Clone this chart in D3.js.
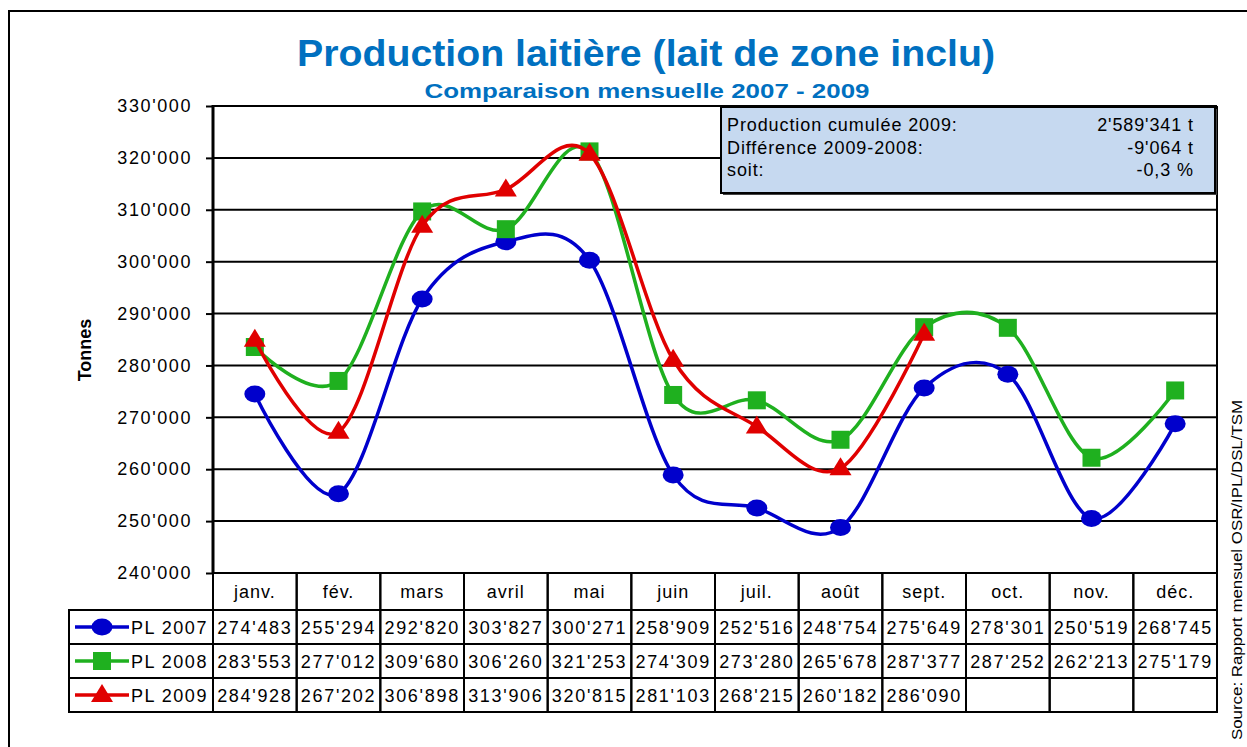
<!DOCTYPE html>
<html>
<head>
<meta charset="utf-8">
<script src="https://cdn.jsdelivr.net/npm/d3@7"></script>
<style>
  body { margin: 0; background: #fff; }
  text { font-family: "Liberation Sans", Arial, sans-serif; }
</style>
</head>
<body>
<script>
/* Monthly milk production, 2007-2009, with the values table under the plot. */

const months = ['janv.', 'fév.', 'mars', 'avril', 'mai', 'juin', 'juil.', 'août', 'sept.', 'oct.', 'nov.', 'déc.'];
const pl2007 = [274483, 255294, 292820, 303827, 300271, 258909, 252516, 248754, 275649, 278301, 250519, 268745];
const pl2008 = [283553, 277012, 309680, 306260, 321253, 274309, 273280, 265678, 287377, 287252, 262213, 275179];
const pl2009 = [284928, 267202, 306898, 313906, 320815, 281103, 268215, 260182, 286090, null, null, null];
const seriesNames = ['PL 2007', 'PL 2008', 'PL 2009'];
const yTicks = [240000, 250000, 260000, 270000, 280000, 290000, 300000, 310000, 320000, 330000];
const infoLabels = ['Production cumulée 2009:', 'Différence 2009-2008:', 'soit:'];
const infoValues = ["2'589'341 t", "-9'064 t", '-0,3 %'];

const W = 1247, H = 747;
const L = 213, R = 1217, T = 106, B = 573;
const HEAD_H = 37, ROW_H = 34, LEG_X = 69;

const colors = {
  title: '#0070c0',
  series: ['#0000cc', '#1fb01f', '#e00000'],
  info: '#c6d9f0',
};

const locale = d3.formatLocale({ decimal: ',', thousands: "'", grouping: [3], currency: ['', ''] });
const fmt = locale.format(',d');

const svg = d3.select('body').append('svg').attr('width', W).attr('height', H);

// outer frame (runs off the right and bottom edges)
svg.append('rect')
  .attr('x', 9).attr('y', 11).attr('width', 1300).attr('height', 800)
  .attr('fill', 'none').attr('stroke', '#000').attr('stroke-width', 2);

// titles
svg.append('text')
  .attr('x', 646).attr('y', 66)
  .attr('text-anchor', 'middle')
  .attr('textLength', 698).attr('lengthAdjust', 'spacingAndGlyphs')
  .style('font-size', '36px').style('font-weight', 'bold')
  .attr('fill', colors.title)
  .text('Production laitière (lait de zone inclu)');
svg.append('text')
  .attr('x', 647).attr('y', 98)
  .attr('text-anchor', 'middle')
  .attr('textLength', 445).attr('lengthAdjust', 'spacingAndGlyphs')
  .style('font-size', '21px').style('font-weight', 'bold')
  .attr('fill', colors.title)
  .text('Comparaison mensuelle 2007  - 2009');

const x = d3.scaleBand().domain(months).range([L, R]);
const y = d3.scaleLinear().domain([240000, 330000]).range([B, T]);
const cx = (m) => x(m) + x.bandwidth() / 2;

// grid
svg.append('g').selectAll('line')
  .data(yTicks)
  .join('line')
  .attr('x1', L).attr('x2', R)
  .attr('y1', (d) => y(d)).attr('y2', (d) => y(d))
  .attr('stroke', '#000').attr('stroke-width', 2);

svg.append('line')
  .attr('x1', R).attr('x2', R).attr('y1', T).attr('y2', B)
  .attr('stroke', '#000').attr('stroke-width', 2);

// y axis
const yAxis = svg.append('g')
  .attr('transform', `translate(${L},0)`)
  .call(d3.axisLeft(y).tickValues(yTicks).tickFormat(fmt).tickSize(7).tickPadding(14));
yAxis.select('.domain').remove();
yAxis.selectAll('.tick line').attr('stroke', '#000').attr('stroke-width', 2);
yAxis.selectAll('.tick text')
  .style('font-size', '18px').style('letter-spacing', '1.6px')
  .attr('fill', '#000');
svg.append('line')
  .attr('x1', L).attr('x2', L).attr('y1', T - 1).attr('y2', B + 1)
  .attr('stroke', '#000').attr('stroke-width', 3);

svg.append('text')
  .attr('transform', `translate(91,350) rotate(-90)`)
  .attr('text-anchor', 'middle')
  .style('font-size', '18px').style('font-weight', 'bold')
  .text('Tonnes');

// info box
const infoY = 107, infoX = 721, infoW = 494, infoH = 86;
svg.append('rect')
  .attr('x', infoX + 2).attr('y', infoY + 2).attr('width', infoW).attr('height', infoH)
  .attr('fill', '#444');
svg.append('rect')
  .attr('x', infoX).attr('y', infoY).attr('width', infoW).attr('height', infoH)
  .attr('fill', colors.info).attr('stroke', '#000').attr('stroke-width', 2);
infoLabels.forEach((label, i) => {
  svg.append('text')
    .attr('x', infoX + 6).attr('y', infoY + 24 + i * 22.5)
    .style('font-size', '18px').style('letter-spacing', '0.9px')
    .text(label);
  svg.append('text')
    .attr('x', infoX + 473).attr('y', infoY + 24 + i * 22.5)
    .attr('text-anchor', 'end')
    .style('font-size', '18px').style('letter-spacing', '0.9px')
    .text(infoValues[i]);
});

// lines and markers
const allSeries = [pl2007, pl2008, pl2009];
const line = d3.line()
  .defined((d) => d != null)
  .x((d, i) => cx(months[i]))
  .y((d) => y(d))
  .curve(d3.curveCardinal.tension(0));

function drawMarker(g, kind, color) {
  if (kind === 0) {
    g.append('ellipse').attr('rx', 10.5).attr('ry', 8.5).attr('fill', color);
  } else if (kind === 1) {
    g.append('rect').attr('x', -9).attr('y', -9).attr('width', 18).attr('height', 18).attr('fill', color);
  } else {
    g.append('path').attr('d', 'M0,-11L11,7L-11,7Z').attr('fill', color);
  }
}

allSeries.forEach((values, s) => {
  const color = colors.series[s];
  svg.append('path')
    .attr('d', line(values))
    .attr('fill', 'none')
    .attr('stroke', color)
    .attr('stroke-width', 3.5);
  values.forEach((v, i) => {
    if (v == null) return;
    const g = svg.append('g').attr('transform', `translate(${cx(months[i])},${y(v)})`);
    drawMarker(g, s, color);
  });
});

// data table
const table = svg.append('g');
months.forEach((m) => {
  table.append('rect')
    .attr('x', x(m)).attr('y', B).attr('width', x.bandwidth()).attr('height', HEAD_H)
    .attr('fill', 'none').attr('stroke', '#000').attr('stroke-width', 2);
  table.append('text')
    .attr('x', cx(m)).attr('y', B + 25)
    .attr('text-anchor', 'middle')
    .style('font-size', '18px').style('letter-spacing', '1px')
    .text(m);
});

allSeries.forEach((values, s) => {
  const rowY = B + HEAD_H + s * ROW_H;
  const color = colors.series[s];
  table.append('rect')
    .attr('x', LEG_X).attr('y', rowY).attr('width', L - LEG_X).attr('height', ROW_H)
    .attr('fill', 'none').attr('stroke', '#000').attr('stroke-width', 2);
  table.append('line')
    .attr('x1', 75).attr('x2', 129).attr('y1', rowY + ROW_H / 2).attr('y2', rowY + ROW_H / 2)
    .attr('stroke', color).attr('stroke-width', 3.5);
  drawMarker(table.append('g').attr('transform', `translate(102,${rowY + ROW_H / 2})`), s, color);
  table.append('text')
    .attr('x', 131).attr('y', rowY + 24)
    .style('font-size', '18px').style('letter-spacing', '1.5px')
    .text(seriesNames[s]);

  months.forEach((m, i) => {
    table.append('rect')
      .attr('x', x(m)).attr('y', rowY).attr('width', x.bandwidth()).attr('height', ROW_H)
      .attr('fill', 'none').attr('stroke', '#000').attr('stroke-width', 2);
    if (values[i] != null) {
      table.append('text')
        .attr('x', cx(m)).attr('y', rowY + 24)
        .attr('text-anchor', 'middle')
        .style('font-size', '18px').style('letter-spacing', '1.7px')
        .text(fmt(values[i]));
    }
  });
});

// source note, rotated on the right edge
svg.append('text')
  .attr('transform', 'translate(1242,740) rotate(-90)')
  .attr('textLength', 340).attr('lengthAdjust', 'spacingAndGlyphs')
  .style('font-size', '14px')
  .text('Source: Rapport mensuel OSR/IPL/DSL/TSM');
</script>
</body>
</html>
